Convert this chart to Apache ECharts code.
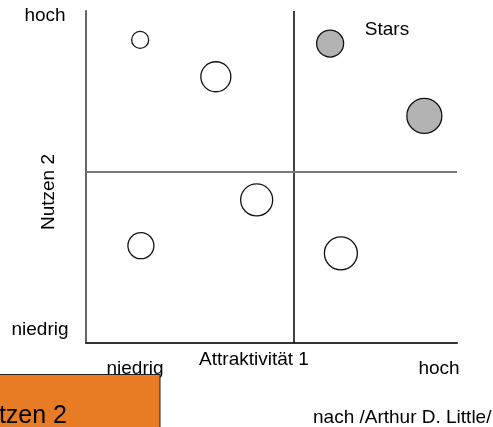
<!DOCTYPE html>
<html>
<head>
<meta charset="utf-8">
<script src="https://cdn.jsdelivr.net/npm/echarts@6/dist/echarts.min.js"></script>
<style>
  html, body { margin: 0; padding: 0; background: #fff; }
  #chart { width: 493px; height: 427px; }
</style>
</head>
<body>
<div id="chart"></div>
<script>
// Portfolio: x = Attraktivität, y = Nutzen, size = Bubble-Durchmesser
var openPoints = [
  [1.46, 9.13, 17],
  [3.50, 8.02, 30],
  [4.60, 4.31, 32],
  [6.87, 2.70, 33],
  [1.48, 2.93, 26]
];
var starPoints = [
  [6.58, 9.02, 27],
  [9.12, 6.84, 35]
];
var xSplit = 5.6;   // senkrechte Trennlinie
var ySplit = 5.15;  // waagerechte Trennlinie
var xEnds = ['niedrig', 'hoch'];
var yEnds = ['niedrig', 'hoch'];
var xName = 'Attraktivität 1';
var yName = 'Nutzen 2';
var starLabel = 'Stars';
var boxLabel = 'Nutzen 2';
var sourceLabel = 'nach /Arthur D. Little/';

var FONT = '"Liberation Sans", Arial, sans-serif';

var chart = echarts.init(document.getElementById('chart'));

function txt(s, x, y, opts) {
  opts = opts || {};
  return {
    type: 'text',
    x: x, y: y,
    rotation: opts.rotation || 0,
    z: opts.z || 10,
    style: {
      text: s,
      fill: '#000',
      font: (opts.size || 19) + 'px ' + FONT,
      align: opts.align || 'center',
      verticalAlign: 'middle'
    }
  };
}

var option = {
  animation: false,
  backgroundColor: '#fff',
  grid: { left: 86, top: 11, right: 36, bottom: 84 },
  xAxis: {
    type: 'value',
    min: 0, max: 10,
    axisLine: { show: true, lineStyle: { color: '#333', width: 2 } },
    axisTick: { show: false },
    axisLabel: { show: false },
    splitLine: { show: false }
  },
  yAxis: {
    type: 'value',
    min: 0, max: 10,
    axisLine: { show: true, lineStyle: { color: '#666', width: 2 } },
    axisTick: { show: false },
    axisLabel: { show: false },
    splitLine: { show: false }
  },
  series: [
    {
      type: 'scatter',
      data: openPoints,
      symbolSize: function (d) { return d[2]; },
      itemStyle: { color: '#fff', borderColor: '#111', borderWidth: 1.3, opacity: 1 },
      markLine: {
        silent: true,
        symbol: 'none',
        label: { show: false },
        data: [
          { xAxis: xSplit, lineStyle: { color: '#000', width: 1.5, type: 'solid' } },
          { yAxis: ySplit, lineStyle: { color: '#7a7a7a', width: 2, type: 'solid' } }
        ]
      },
      z: 3
    },
    {
      type: 'scatter',
      data: starPoints,
      symbolSize: function (d) { return d[2]; },
      itemStyle: { color: '#b3b3b3', borderColor: '#111', borderWidth: 1.3, opacity: 1 },
      z: 3
    }
  ],
  graphic: [
    txt(yEnds[1], 45, 16),
    txt(yEnds[0], 40, 330),
    txt(yName, 49, 192, { rotation: Math.PI / 2 }),
    txt(xName, 254, 360),
    txt(xEnds[0], 135, 369),
    txt(xEnds[1], 439, 369),
    txt(starLabel, 387, 30),
    {
      type: 'rect',
      z: 20,
      shape: { x: -2, y: 374.5, width: 162, height: 60 },
      style: { fill: '#E87C24', stroke: '#222', lineWidth: 1 }
    },
    txt(boxLabel, 67, 416, { align: 'right', size: 25, z: 21 }),
    txt(sourceLabel, 313, 418, { align: 'left' })
  ]
};

chart.setOption(option);
</script>
</body>
</html>
